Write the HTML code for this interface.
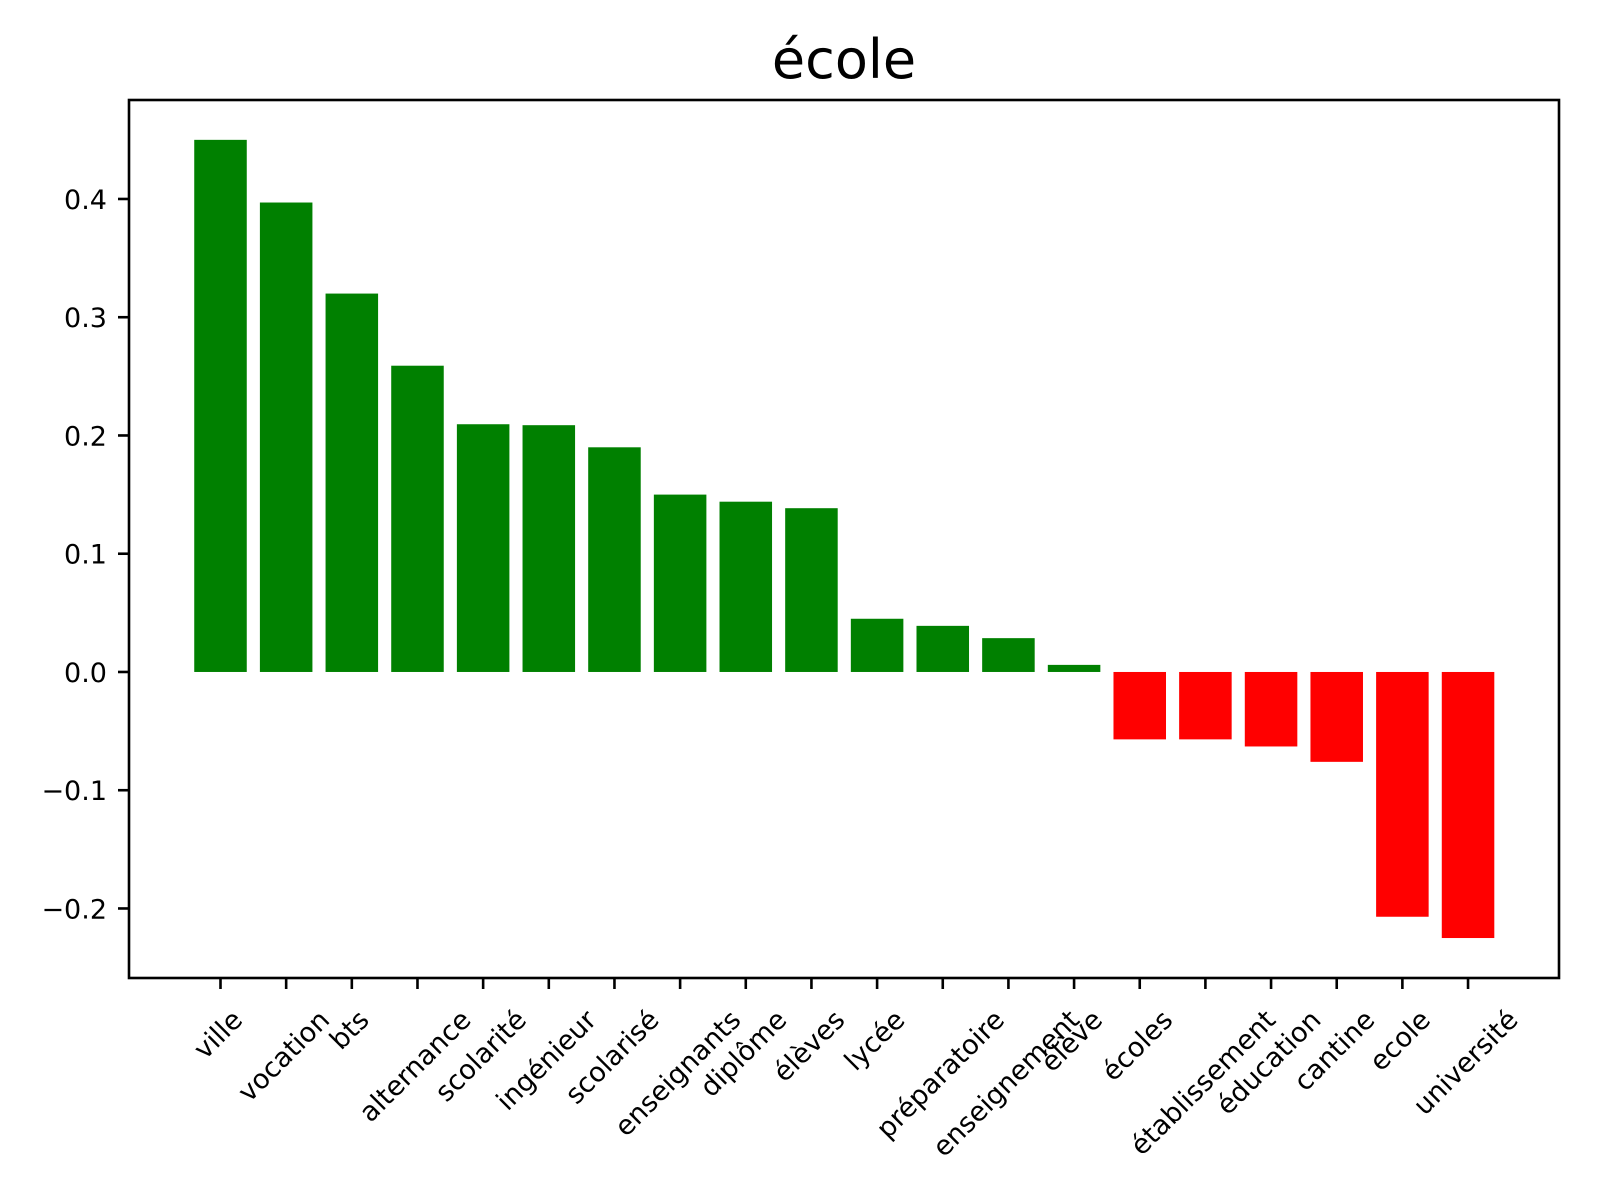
<!DOCTYPE html>
<html><head><meta charset="utf-8">
<style>
html,body{margin:0;padding:0;background:#fff;}
svg{display:block;font-family:"DejaVu Sans","Liberation Sans",sans-serif;}
</style></head>
<body>
<svg id="chart" width="1600" height="1200" viewBox="0 0 1600 1200" xmlns="http://www.w3.org/2000/svg">
<rect width="1600" height="1200" fill="#fff"/>
<text x="844" y="78" font-size="54" text-anchor="middle" fill="#000">école</text>
<g id="bars"></g>
<g id="yaxis"></g>
<g id="xaxis"></g>
<rect x="129" y="100" width="1430" height="878" fill="none" stroke="#000" stroke-width="2.6"/>
</svg>
<script>
const categories = ["ville","vocation","bts","alternance","scolarité","ingénieur","scolarisé","enseignants","diplôme","élèves","lycée","préparatoire","enseignement","élève","écoles","établissement","éducation","cantine","ecole","université"];
const values = [0.450,0.397,0.320,0.259,0.2095,0.2087,0.190,0.150,0.144,0.1385,0.045,0.039,0.0286,0.006,-0.057,-0.057,-0.063,-0.076,-0.207,-0.225];
const yTicks = [-0.2,-0.1,0.0,0.1,0.2,0.3,0.4];
const yTickLabels = ["\u22120.2","\u22120.1","0.0","0.1","0.2","0.3","0.4"];

const NS="http://www.w3.org/2000/svg";
const L=129,R=1559,T=100,B=978;
const yMin=-0.2588,yMax=0.4837;
const n=categories.length;
const x0=220.5, step=65.66;
function xPos(i){return x0+i*step;}
function yPos(v){return B-(v-yMin)/(yMax-yMin)*(B-T);}
function mk(tag,attrs){const e=document.createElementNS(NS,tag);for(const k in attrs)e.setAttribute(k,attrs[k]);return e;}

const bars=document.getElementById('bars');
values.forEach((v,i)=>{
  const w=step*0.8;
  const y1=yPos(Math.max(v,0)), y2=yPos(Math.min(v,0));
  const r=mk('rect',{x:xPos(i)-w/2,y:y1,width:w,height:y2-y1,fill:v>=0?'#008000':'#ff0000'});
  
  
  bars.appendChild(r);
});

const ya=document.getElementById('yaxis');
yTicks.forEach((t,i)=>{
  const y=yPos(t);
  const tk=mk('line',{x1:L-11,x2:L,y1:y,y2:y,stroke:'#000','stroke-width':2.6});
  
  
  ya.appendChild(tk);
  const tx=mk('text',{x:L-22,y:y+10,'font-size':27,'text-anchor':'end',fill:'#000'});
  tx.textContent=yTickLabels[i];
  
  
  ya.appendChild(tx);
});

const xa=document.getElementById('xaxis');
categories.forEach((c,i)=>{
  const x=xPos(i);
  const tk=mk('line',{x1:x,x2:x,y1:B,y2:B+11,stroke:'#000','stroke-width':2.6});
  
  
  xa.appendChild(tk);
  const tx=mk('text',{'font-size':27,'text-anchor':'middle','dominant-baseline':'central',fill:'#000'});
  tx.textContent=c;
  
  
  xa.appendChild(tx);
  const w=tx.getComputedTextLength();
  const h=27*1.0;
  const boxH=(w+h)*0.7071;
  const cy=1006+boxH/2;
  tx.setAttribute('transform','translate('+(x-2)+','+cy+') rotate(-45)');
});
</script>
</body></html>
